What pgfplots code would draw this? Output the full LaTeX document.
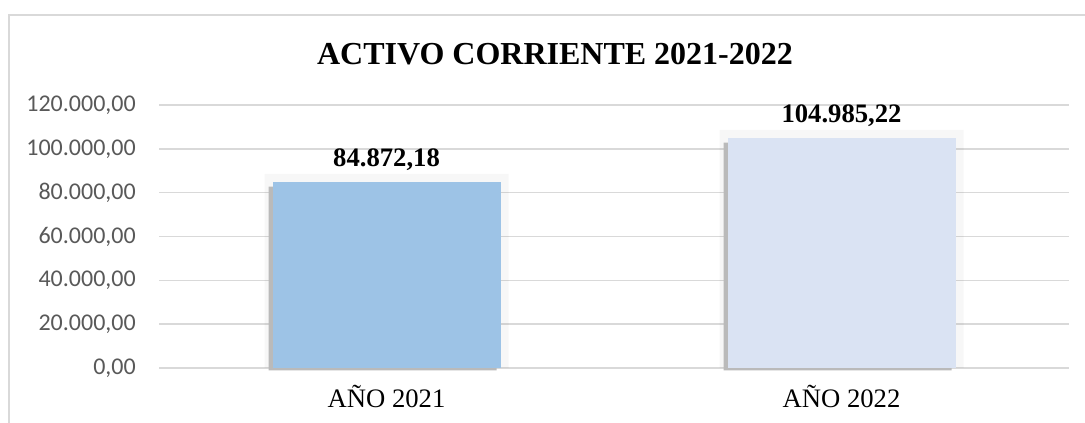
\documentclass[border=0pt]{standalone}
\usepackage{pgfplots}
\pgfplotsset{compat=1.18}
\usepackage{fontspec}
\setmainfont{Liberation Serif}
\newfontfamily\calibri{Carlito}
\definecolor{barA}{HTML}{9DC3E6}
\definecolor{barB}{HTML}{DAE3F3}
\definecolor{gridc}{HTML}{D9D9D9}
\definecolor{ticktxt}{HTML}{595959}
\begin{document}
\begin{tikzpicture}[x=0.75pt,y=0.75pt]
\useasboundingbox (0,0) rectangle (1085,-423);
\fill[white] (0,0) rectangle (1085,-423);
\draw[gridc, line width=1.1pt] (9,-15) rectangle (1120,-460);
\node[anchor=base, font=\bfseries\fontsize{24}{28}\selectfont] at (555,-65) {ACTIVO CORRIENTE 2021-2022};
\begin{axis}[
  at={(119.25pt,-276pt)}, anchor=south west,
  scale only axis, width=682.5pt, height=197.25pt,
  xmin=-0.5, xmax=1.5, ymin=0, ymax=120000,
  scaled y ticks=false,
  axis line style={draw=none},
  major tick length=0pt,
  ymajorgrids, grid style={gridc, line width=1.1pt},
  ytick={0,20000,40000,60000,80000,100000,120000},
  yticklabels={{0,00},{20.000,00},{40.000,00},{60.000,00},{80.000,00},{100.000,00},{120.000,00}},
  yticklabel style={anchor=east, inner sep=0pt, xshift=-17.25pt, font=\calibri\fontsize{18}{20}\selectfont, text=ticktxt},
  xtick={0,1}, xticklabels={AÑO 2021, AÑO 2022},
  xticklabel style={anchor=base, inner sep=0pt, yshift=-30pt, font=\fontsize{20}{24}\selectfont},
  clip=false,
  ybar, bar shift=0pt,
]
% soft glow
\addplot[fill=black, fill opacity=0.03, draw=none, bar width=183pt] coordinates {(0,88520) (1,108630)};
% shadow
\addplot[fill=black!27, draw=none, bar width=171pt, xshift=-3pt, yshift=-1.8pt] coordinates {(0,83800) (1,103900)};
% bars
\addplot[fill=barA, draw=none, bar width=171pt,
  nodes near coords, point meta=explicit symbolic,
  every node near coord/.append style={anchor=base, inner sep=0pt, yshift=11.25pt, font=\bfseries\fontsize{20}{24}\selectfont, text=black}]
  table[meta=label] {
x y label
0 84872.18 84.872,18
};
\addplot[fill=barB, draw=none, bar width=171pt,
  nodes near coords, point meta=explicit symbolic,
  every node near coord/.append style={anchor=base, inner sep=0pt, yshift=11.25pt, font=\bfseries\fontsize{20}{24}\selectfont, text=black}]
  table[meta=label] {
x y label
1 104985.22 104.985,22
};
\end{axis}
\end{tikzpicture}
\end{document}
